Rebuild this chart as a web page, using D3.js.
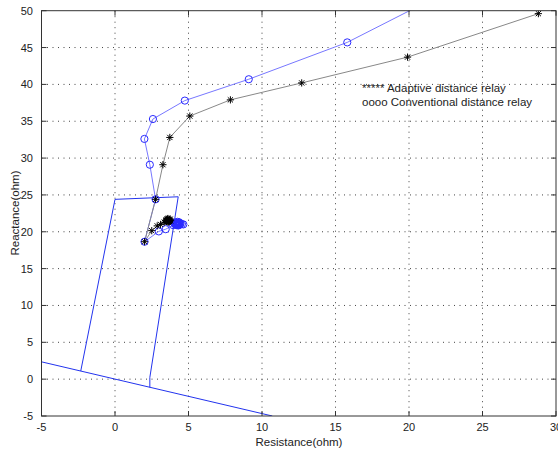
<!DOCTYPE html>
<html><head><meta charset="utf-8">
<script src="https://cdn.jsdelivr.net/npm/d3@7"></script>
<style>body{margin:0;background:#fff}svg{display:block}text{font-family:Arial,"Liberation Sans",sans-serif}</style>
</head><body><svg id="c" width="558" height="449"></svg>
<script>
// Data
const xTicks = [-5,0,5,10,15,20,25,30];
const yTicks = [-5,0,5,10,15,20,25,30,35,40,45,50];
const adaptiveR = [28.8,19.9,12.7,7.85,5.09,3.73,3.26,2.76,2.01,2.5,2.87,3.1,3.35,3.5,3.55,3.62,3.68,3.6,3.72,3.5,3.65,3.52,3.7,3.55,3.75,3.45,3.78,3.6,3.62,3.66];
const adaptiveX = [49.6,43.7,40.2,37.9,35.7,32.8,29.1,24.4,18.65,20.15,20.8,21.0,21.3,21.45,21.65,21.5,21.7,21.35,21.55,21.6,21.45,21.4,21.4,21.75,21.7,21.55,21.5,21.8,21.3,21.6];
const convR = [22.3,15.8,9.1,4.75,2.58,2.0,2.37,2.76,2.01,2.98,3.45,3.95,4.1,4.2,4.3,4.25,4.35,4.15,4.4,4.3,4.1,4.4,4.2,4.35,4.05,4.45,4.25,4.3,4.22,4.55,4.65];
const convX = [52.3,45.7,40.7,37.8,35.3,32.6,29.1,24.4,18.65,20.05,20.35,20.9,21.0,21.2,21.0,21.15,21.1,21.05,21.2,20.95,21.25,20.95,20.9,21.3,21.1,21.1,21.35,20.85,21.1,21.05,21.0];
const zoneR = [-2.33,0,4.3,2.37,2.37];
const zoneX = [1.1,24.4,24.75,0.23,-1.12];
const dirR = [-5,10.7];
const dirX = [2.35,-5];
const legendLines = ["***** Adaptive distance relay","oooo Conventional distance relay"];

const svg = d3.select("#c");
const L=41.5,R=556,T=10.7,B=416;
const x = d3.scaleLinear().domain([-5,30]).range([L,R]);
const y = d3.scaleLinear().domain([-5,50]).range([B,T]);

svg.append("defs").append("clipPath").attr("id","clip").append("rect")
  .attr("x",L).attr("y",T).attr("width",R-L).attr("height",B-T);

// grid
const g = svg.append("g");
g.selectAll(".gx").data(xTicks.filter(d=>d>-5&&d<30)).enter().append("line")
  .attr("x1",d=>x(d)).attr("x2",d=>x(d)).attr("y1",T).attr("y2",B)
  .attr("stroke","#444").attr("stroke-width",1).attr("stroke-dasharray","1,4.5");
g.selectAll(".gy").data(yTicks.filter(d=>d>-5&&d<50)).enter().append("line")
  .attr("y1",d=>y(d)).attr("y2",d=>y(d)).attr("x1",L).attr("x2",R)
  .attr("stroke","#444").attr("stroke-width",1).attr("stroke-dasharray","1,4.5");

const plot = svg.append("g").attr("clip-path","url(#clip)");
const line = d3.line().x(d=>x(d[0])).y(d=>y(d[1]));

// zone characteristic
plot.append("path").datum(zoneR.map((r,i)=>[r,zoneX[i]])).attr("d",line)
  .attr("fill","none").attr("stroke","#2233ee").attr("stroke-width",1);
plot.append("path").datum(dirR.map((r,i)=>[r,dirX[i]])).attr("d",line)
  .attr("fill","none").attr("stroke","#2233ee").attr("stroke-width",1);

// conventional
const conv = convR.map((r,i)=>[r,convX[i]]);
plot.append("path").datum(conv).attr("d",line).attr("fill","none")
  .attr("stroke","#7777ff").attr("stroke-width",1);
// adaptive
const adap = adaptiveR.map((r,i)=>[r,adaptiveX[i]]);
plot.append("path").datum(adap).attr("d",line).attr("fill","none")
  .attr("stroke","#888").attr("stroke-width",1);

plot.selectAll(".cm").data(conv).enter().append("circle")
  .attr("cx",d=>x(d[0])).attr("cy",d=>y(d[1])).attr("r",3.6)
  .attr("fill","none").attr("stroke","#2a2aff").attr("stroke-width",1);

const s=3.6, s2=2.6;
const starPath = `M${-s},0L${s},0M0,${-s}L0,${s}M${-s2},${-s2}L${s2},${s2}M${-s2},${s2}L${s2},${-s2}`;
plot.selectAll(".sm").data(adap).enter().append("path")
  .attr("transform",d=>`translate(${x(d[0])},${y(d[1])})`).attr("d",starPath)
  .attr("fill","none").attr("stroke","#000").attr("stroke-width",1);

// frame & ticks
const fr = svg.append("g");
fr.append("rect").attr("x",L).attr("y",T).attr("width",R-L).attr("height",B-T)
  .attr("fill","none").attr("stroke","#333").attr("stroke-width",1);
const tl=5;
xTicks.forEach(t=>{
  fr.append("line").attr("x1",x(t)).attr("x2",x(t)).attr("y1",B).attr("y2",B-tl).attr("stroke","#333");
  fr.append("line").attr("x1",x(t)).attr("x2",x(t)).attr("y1",T).attr("y2",T+tl).attr("stroke","#333");
  fr.append("text").attr("x",x(t)).attr("y",431).attr("text-anchor","middle")
    .attr("font-size",11).attr("fill","#222").text(t);
});
yTicks.forEach(t=>{
  fr.append("line").attr("y1",y(t)).attr("y2",y(t)).attr("x1",L).attr("x2",L+tl).attr("stroke","#333");
  fr.append("line").attr("y1",y(t)).attr("y2",y(t)).attr("x1",R).attr("x2",R-tl).attr("stroke","#333");
  fr.append("text").attr("x",33).attr("y",y(t)+4).attr("text-anchor","end")
    .attr("font-size",11).attr("fill","#222").text(t);
});

svg.append("text").attr("x",299).attr("y",446).attr("text-anchor","middle")
  .attr("font-size",11.5).attr("fill","#222").text("Resistance(ohm)");
svg.append("text").attr("transform","translate(19,213) rotate(-90)").attr("text-anchor","middle")
  .attr("font-size",11.5).attr("fill","#222").text("Reactance(ohm)");

legendLines.forEach((t,i)=>{
  svg.append("text").attr("x",362).attr("y",92+i*14).attr("font-size",11.5)
    .attr("fill","#222").text(t);
});
</script></body></html>
